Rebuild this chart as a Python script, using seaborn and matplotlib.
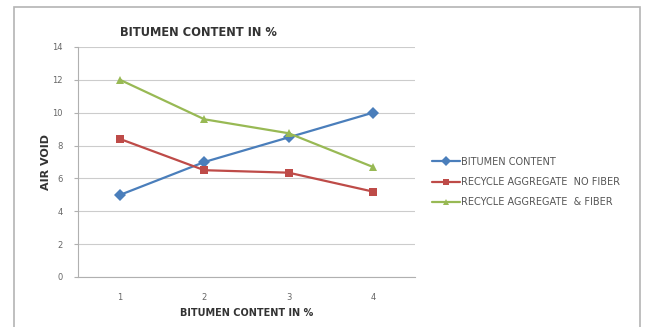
import pandas as pd
import numpy as np
import matplotlib as mpl
mpl.use('Agg')
import matplotlib.pyplot as plt
import seaborn as sns

categories = [1, 2, 3, 4]
bitumen = [5.0, 7.0, 8.5, 10.0]
no_fiber = [8.4, 6.5, 6.35, 5.2]
with_fiber = [12.0, 9.6, 8.75, 6.7]
names = ['BITUMEN CONTENT', 'RECYCLE AGGREGATE  NO FIBER', 'RECYCLE AGGREGATE  & FIBER']
colors = ['#4a7ebb', '#be4b48', '#98b954']

df = pd.DataFrame({
    'x': categories * 3,
    'y': bitumen + no_fiber + with_fiber,
    'series': [names[0]] * 4 + [names[1]] * 4 + [names[2]] * 4,
})

sns.set_style('white')
plt.rcParams['font.family'] = ['DejaVu Sans']

fig = plt.figure(figsize=(6.46, 3.27), dpi=100)
ax = fig.add_axes([78 / 646, 1 - 277 / 327, 337 / 646, 230 / 327])

sns.lineplot(data=df, x='x', y='y', hue='series', style='series',
             markers=['D', 's', '^'], dashes=False, palette=colors,
             markersize=6, linewidth=1.6, markeredgewidth=0, ax=ax)

ax.set_xlim(0.5, 4.5)
ax.set_ylim(0, 14)
ax.set_yticks(np.arange(0, 15, 2))
ax.set_xticks(categories)
ax.yaxis.grid(True, color='#cccccc', linewidth=0.8)
ax.set_axisbelow(True)
for s in ['top', 'right']:
    ax.spines[s].set_visible(False)
for s in ['left', 'bottom']:
    ax.spines[s].set_color('#b0b0b0')
    ax.spines[s].set_linewidth(0.8)
ax.tick_params(axis='y', left=True, length=3, color='#b0b0b0', labelsize=6, labelcolor='#666666', pad=8)
ax.tick_params(axis='x', bottom=False, labelsize=6, labelcolor='#666666', pad=8)

ax.set_xlabel('BITUMEN CONTENT IN %', fontsize=7, fontweight='bold', color='#333333', labelpad=4)
ax.set_ylabel('AIR VOID', fontsize=8, fontweight='bold', color='#333333', labelpad=1)
fig.text(120 / 646, 1 - 33 / 327, 'BITUMEN CONTENT IN %', fontsize=8.3, fontweight='bold',
         color='#333333', va='center', ha='left')

leg = ax.legend(loc='center left', bbox_to_anchor=(423 / 646, 1 - 182 / 327),
                bbox_transform=fig.transFigure, frameon=False, fontsize=7,
                handlelength=2.9, handletextpad=0.15, labelspacing=1.05,
                markerscale=0.8)
for t in leg.get_texts():
    t.set_color('#555555')

# outer chart frame
fig.add_artist(plt.Rectangle((14 / 646, -0.02), 626 / 646, 1 - 7 / 327 + 0.02,
                             transform=fig.transFigure, fill=False,
                             edgecolor='#b4b4b4', linewidth=1.2))

fig.savefig('out.png', dpi=100)
